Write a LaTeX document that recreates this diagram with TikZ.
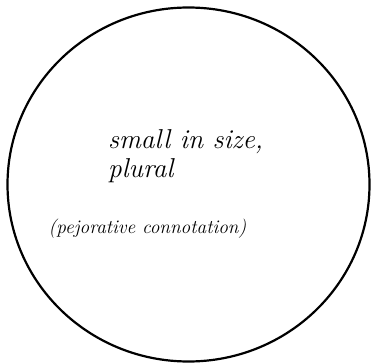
\documentclass[tikz,border=0pt]{standalone}
\usepackage{fontspec}
\usepackage{tikz}

\tikzset{
  rim/.style={line width=2.2pt},
  bigtxt/.style={font=\fontsize{27.3}{29.5}\selectfont\itshape,inner sep=0pt,align=left},
  smalltxt/.style={font=\fontsize{19.3}{21}\selectfont\itshape,inner sep=0pt}
}

\begin{document}
\begin{tikzpicture}[x=1pt,y=1pt]
\useasboundingbox (0,0) rectangle (371,-363);
\draw[rim] (188.5,-184.5) ellipse [x radius=181,y radius=177];
\node[bigtxt,anchor=north west] (sense) at (108,-129) {small in size,\\plural};
\node[smalltxt,anchor=base] (conno) at (147.5,-233) {(pejorative connotation)};
\end{tikzpicture}
\end{document}
